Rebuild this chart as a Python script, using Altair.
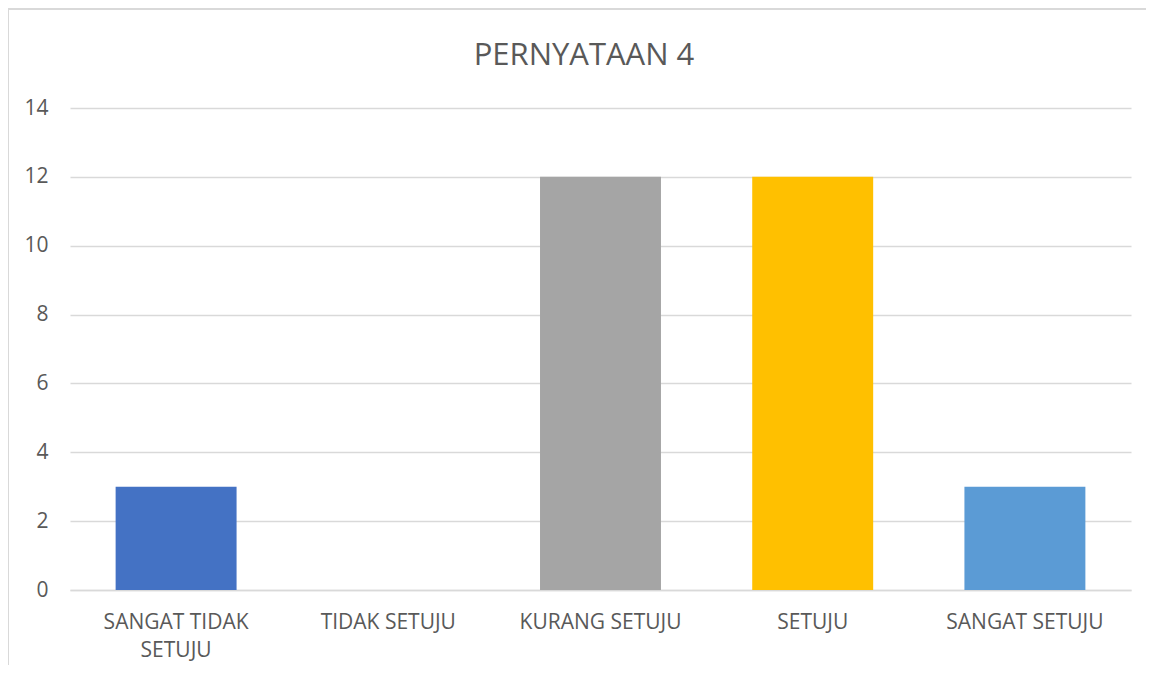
import altair as alt
import pandas as pd

categories = ["SANGAT TIDAK SETUJU", "TIDAK SETUJU", "KURANG SETUJU", "SETUJU", "SANGAT SETUJU"]
values = [3, 0, 12, 12, 3]
colors = ["#4472C4", "#ED7D31", "#A5A5A5", "#FFC000", "#5B9BD5"]
y_ticks = [0, 2, 4, 6, 8, 10, 12, 14]
title_text = ["PERNYATAAN 4"]

df = pd.DataFrame({"cat": categories, "val": values})
tdf = pd.DataFrame({"t": title_text})

FONT = "Open Sans"
GRAY = "#595959"

bars = alt.Chart(df).mark_bar().encode(
    x=alt.X("cat:N", sort=categories, title=None,
            scale=alt.Scale(paddingInner=0.43, paddingOuter=0.215),
            axis=alt.Axis(labelAngle=0, labelFont=FONT, labelFontSize=21, labelColor=GRAY,
                          labelPadding=21, ticks=False, domain=True, domainColor="#D9D9D9",
                          domainWidth=1.5, labelLineHeight=28, labelLimit=300, grid=False,
                          labelExpr="datum.label == 'SANGAT TIDAK SETUJU' ? ['SANGAT TIDAK', 'SETUJU'] : datum.label")),
    y=alt.Y("val:Q", title=None, scale=alt.Scale(domain=[0, 14], nice=False),
            axis=alt.Axis(values=y_ticks, labelFont=FONT, labelFontSize=21, labelColor=GRAY,
                          labelPadding=22, ticks=False, domain=False, gridColor="#D9D9D9",
                          gridWidth=1.5)),
    color=alt.Color("cat:N", sort=categories, legend=None,
                    scale=alt.Scale(domain=categories, range=colors)),
)

border = alt.Chart(df).mark_rect(fillOpacity=0, stroke="#D9D9D9", strokeWidth=1.5).encode(
    x=alt.value(-62), x2=alt.value(1200), y=alt.value(-99), y2=alt.value(700)
)

title = alt.Chart(tdf).mark_text(font=FONT, fontSize=31, color=GRAY, align="center",
                                 baseline="alphabetic").encode(
    text="t:N", x=alt.value(514), y=alt.value(-43)
)

chart = alt.layer(border, bars, title).properties(
    width=1061, height=482,
    autosize=alt.AutoSizeParams(type="none"),
    padding={"left": 62, "top": 100, "right": 15, "bottom": 75},
).configure(background="white").configure_view(strokeWidth=0, stroke="transparent")

chart.save("out.html", embed_options={"renderer": "svg", "actions": False})
